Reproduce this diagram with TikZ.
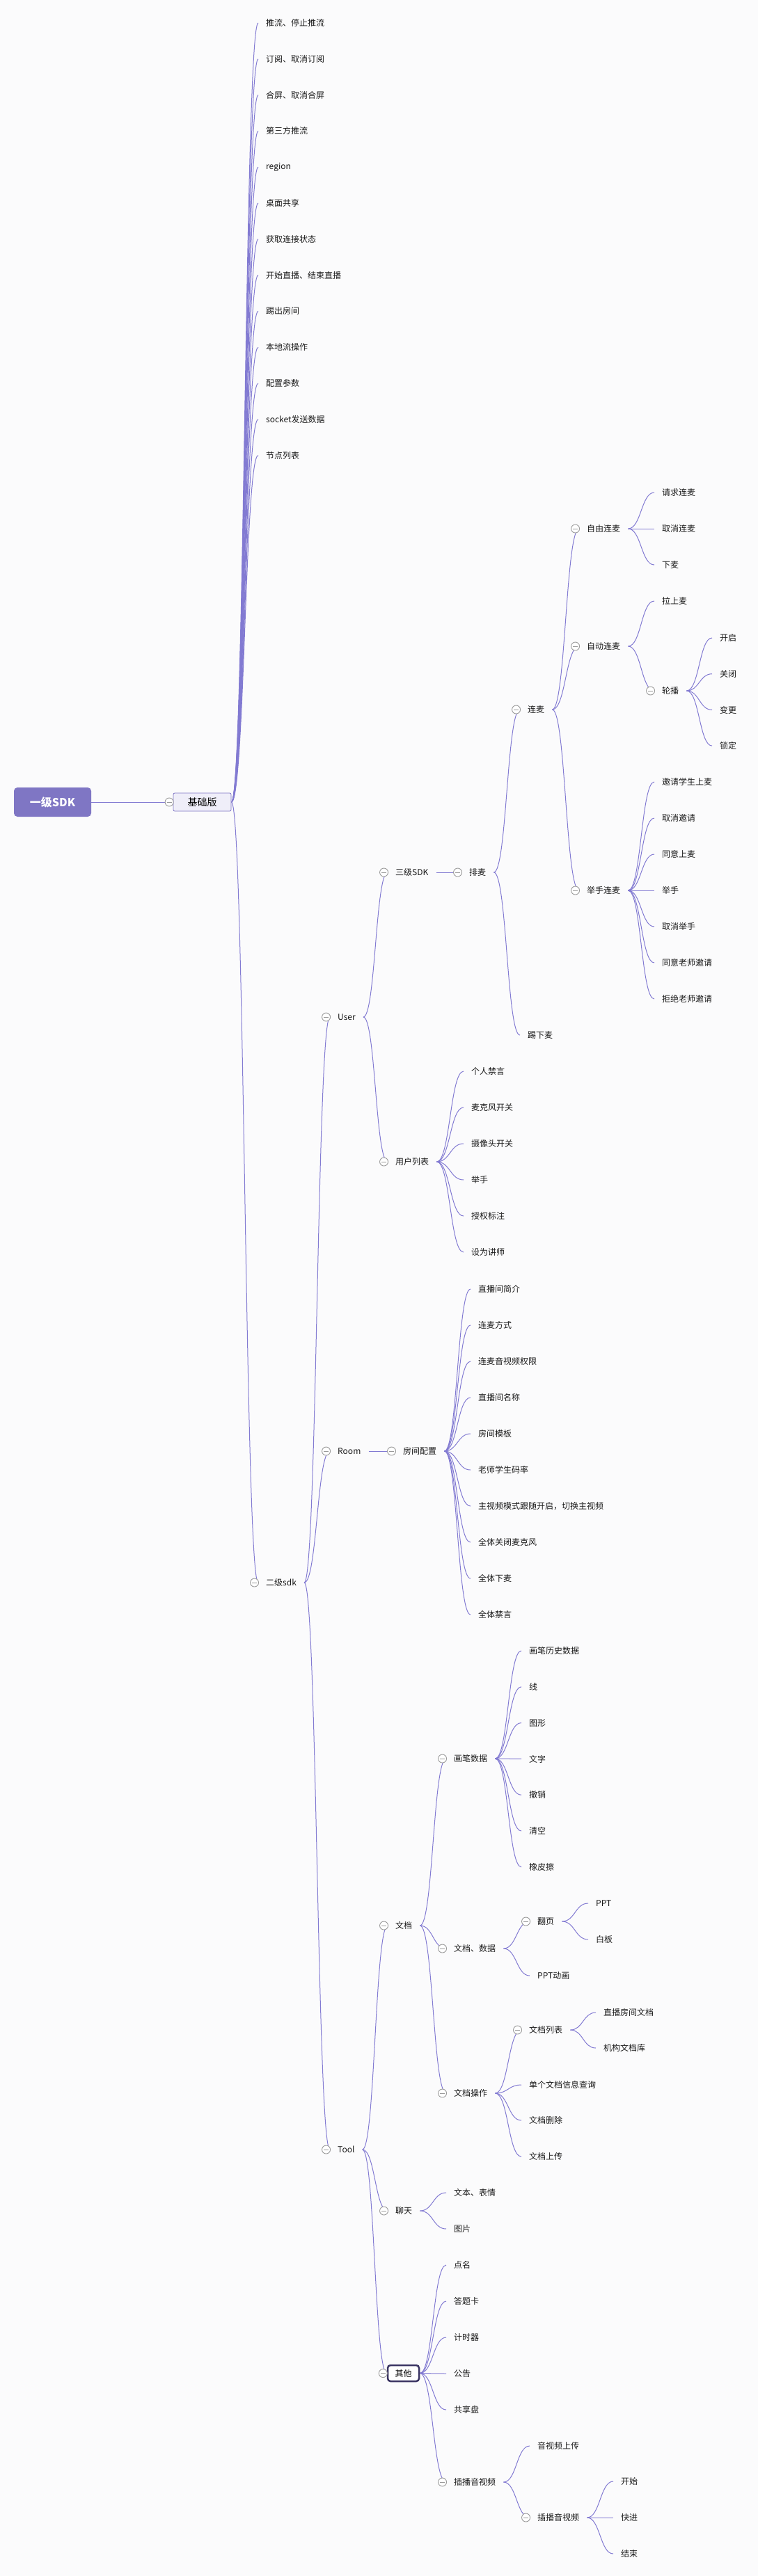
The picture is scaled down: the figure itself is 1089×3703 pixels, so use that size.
\documentclass[tikz,border=0pt]{standalone}
\usepackage{fontspec}
\setmainfont{Noto Sans CJK SC}
\usepackage{xcolor}
\usepackage{tikz}
\usetikzlibrary{calc,backgrounds}

\definecolor{morado}{RGB}{127,118,196}
\definecolor{lila}{RGB}{239,238,249}
\definecolor{linea}{RGB}{130,122,210}
\definecolor{fondo}{RGB}{251,251,252}
\definecolor{oscuro}{RGB}{58,52,98}

\tikzset{
  texto/.style={anchor=west, inner xsep=11pt, inner ysep=3pt,
    font=\fontsize{12}{14}\selectfont, text=black!90},
  menos/.style={circle, draw=black!40, fill=white, line width=0.9pt,
    minimum size=12pt, inner sep=0pt,
    path picture={\draw[black!40, line width=0.9pt]
      ([xshift=-3.5pt]path picture bounding box.center) --
      ([xshift=3.5pt]path picture bounding box.center);}},
  plegable/.style={texto, label={[menos, label distance=-1pt]left:{}}},
  raiz/.style={rectangle, rounded corners=5pt, fill=morado, text=white,
    font=\fontsize{16}{18}\selectfont\bfseries,
    minimum width=111pt, minimum height=42pt},
  basico/.style={rectangle, rounded corners=2pt, draw=morado, fill=lila,
    line width=0.8pt, font=\fontsize{14}{16}\selectfont,
    minimum width=83pt, minimum height=26pt},
  otro/.style={rectangle, rounded corners=4pt, draw=oscuro, fill=white,
    line width=2.5pt, font=\fontsize{12}{14}\selectfont,
    minimum width=45pt, minimum height=23pt},
  rama/.style={draw=linea, line width=1pt,
    to path={.. controls ($(\tikztostart)!0.5!(\tikztotarget |- \tikztostart)$)
      and ($(\tikztotarget)!0.5!(\tikztostart |- \tikztotarget)$) .. (\tikztotarget)}}
}

\begin{document}
\begin{tikzpicture}[x=1pt, y=-1pt]
    % Raíz y versión básica
    \node[raiz] (raiz) at (75.5,1153) {一级SDK};
    \node[basico, label={[menos, label distance=-1pt]left:{}}] (base) at (290.5,1153) {基础版};

    % Funciones básicas
    \foreach \t [count=\i from 0] in {推流、停止推流, 订阅、取消订阅, 合屏、取消合屏,
        第三方推流, region, 桌面共享, 获取连接状态, 开始直播、结束直播, 踢出房间,
        本地流操作, 配置参数, socket发送数据, 节点列表}
      \node[texto] (b\i) at (371,33+51.8*\i) {\t};

    % Segundo nivel
    \node[plegable] (sdk2) at (371,2275) {二级sdk};
    \node[plegable] (user) at (474,1462) {User};
    \node[plegable] (room) at (474,2086) {Room};
    \node[plegable] (tool) at (474,3090) {Tool};

    % User: tercer nivel y micrófono
    \node[plegable] (sdk3) at (557,1254) {三级SDK};
    \node[plegable] (paimai) at (663,1254) {排麦};
    \node[plegable] (lianmai) at (747,1020) {连麦};
    \node[texto] (tixia) at (747,1488) {踢下麦};

    \node[plegable] (ziyou) at (832,760) {自由连麦};
    \node[texto] (zy0) at (940,708) {请求连麦};
    \node[texto] (zy1) at (940,760) {取消连麦};
    \node[texto] (zy2) at (940,812) {下麦};

    \node[plegable] (zidong) at (832,929) {自动连麦};
    \node[texto] (lashang) at (940,864) {拉上麦};
    \node[plegable] (lunbo) at (940,993) {轮播};
    \foreach \t [count=\i from 0] in {开启, 关闭, 变更, 锁定}
      \node[texto] (lb\i) at (1023,917+51.7*\i) {\t};

    \node[plegable] (jushou) at (832,1280) {举手连麦};
    \foreach \t [count=\i from 0] in {邀请学生上麦, 取消邀请, 同意上麦, 举手,
        取消举手, 同意老师邀请, 拒绝老师邀请}
      \node[texto] (js\i) at (940,1124+52*\i) {\t};

    % Lista de usuarios
    \node[plegable] (lista) at (557,1670) {用户列表};
    \foreach \t [count=\i from 0] in {个人禁言, 麦克风开关, 摄像头开关, 举手, 授权标注, 设为讲师}
      \node[texto] (ul\i) at (666,1540+52*\i) {\t};

    % Room
    \node[plegable] (config) at (568,2086) {房间配置};
    \foreach \t [count=\i from 0] in {直播间简介, 连麦方式, 连麦音视频权限, 直播间名称,
        房间模板, 老师学生码率, 主视频模式跟随开启，切换主视频, 全体关闭麦克风, 全体下麦, 全体禁言}
      \node[texto] (rc\i) at (676,1853+52*\i) {\t};

    % Tool: documentos
    \node[plegable] (doc) at (557,2768) {文档};
    \node[plegable] (pincel) at (641,2528) {画笔数据};
    \foreach \t [count=\i from 0] in {画笔历史数据, 线, 图形, 文字, 撤销, 清空, 橡皮擦}
      \node[texto] (pc\i) at (749,2373+51.8*\i) {\t};

    \node[plegable] (docdatos) at (641,2801) {文档、数据};
    \node[plegable] (fanye) at (761,2762) {翻页};
    \node[texto] (ppt) at (845,2736) {PPT};
    \node[texto] (pizarra) at (845,2788) {白板};
    \node[texto] (pptanim) at (761,2840) {PPT动画};

    \node[plegable] (docop) at (641,3009) {文档操作};
    \node[plegable] (doclista) at (749,2918) {文档列表};
    \node[texto] (dl0) at (856,2893) {直播房间文档};
    \node[texto] (dl1) at (856,2944) {机构文档库};
    \node[texto] (do1) at (749,2997) {单个文档信息查询};
    \node[texto] (do2) at (749,3048) {文档删除};
    \node[texto] (do3) at (749,3100) {文档上传};

    % Tool: chat
    \node[plegable] (chat) at (557,3178) {聊天};
    \node[texto] (ch0) at (641,3152) {文本、表情};
    \node[texto] (ch1) at (641,3204) {图片};

    % Tool: otros
    \node[otro, label={[menos, label distance=-1pt]left:{}}] (otros) at (579.5,3411.5) {其他};
    \foreach \t [count=\i from 0] in {点名, 答题卡, 计时器, 公告, 共享盘}
      \node[texto] (ot\i) at (641,3256+52*\i) {\t};
    \node[plegable] (chabo) at (641,3568) {插播音视频};
    \node[texto] (subir) at (761,3516) {音视频上传};
    \node[plegable] (chabo2) at (761,3619) {插播音视频};
    \foreach \t [count=\i from 0] in {开始, 快进, 结束}
      \node[texto] (cb\i) at (881,3567+52*\i) {\t};

    % Ramas (detrás de los nodos)
    \begin{scope}[on background layer]
      \fill[fondo] (0,0) rectangle (1089,3703);
      \draw[rama] (raiz.east) to (base.west);
      \foreach \i in {0,...,12} \draw[rama] (base.east) to (b\i.west);
      \draw[rama] (base.east) to (sdk2.west);
      \foreach \n in {user,room,tool} \draw[rama] (sdk2.east) to (\n.west);

      \foreach \n in {sdk3,lista} \draw[rama] (user.east) to (\n.west);
      \draw[rama] (sdk3.east) to (paimai.west);
      \foreach \n in {lianmai,tixia} \draw[rama] (paimai.east) to (\n.west);
      \foreach \n in {ziyou,zidong,jushou} \draw[rama] (lianmai.east) to (\n.west);
      \foreach \i in {0,1,2} \draw[rama] (ziyou.east) to (zy\i.west);
      \foreach \n in {lashang,lunbo} \draw[rama] (zidong.east) to (\n.west);
      \foreach \i in {0,...,3} \draw[rama] (lunbo.east) to (lb\i.west);
      \foreach \i in {0,...,6} \draw[rama] (jushou.east) to (js\i.west);
      \foreach \i in {0,...,5} \draw[rama] (lista.east) to (ul\i.west);

      \draw[rama] (room.east) to (config.west);
      \foreach \i in {0,...,9} \draw[rama] (config.east) to (rc\i.west);

      \foreach \n in {doc,chat,otros} \draw[rama] (tool.east) to (\n.west);
      \foreach \n in {pincel,docdatos,docop} \draw[rama] (doc.east) to (\n.west);
      \foreach \i in {0,...,6} \draw[rama] (pincel.east) to (pc\i.west);
      \foreach \n in {fanye,pptanim} \draw[rama] (docdatos.east) to (\n.west);
      \foreach \n in {ppt,pizarra} \draw[rama] (fanye.east) to (\n.west);
      \foreach \n in {doclista,do1,do2,do3} \draw[rama] (docop.east) to (\n.west);
      \foreach \i in {0,1} \draw[rama] (doclista.east) to (dl\i.west);
      \foreach \i in {0,1} \draw[rama] (chat.east) to (ch\i.west);
      \foreach \i in {0,...,4} \draw[rama] (otros.east) to (ot\i.west);
      \draw[rama] (otros.east) to (chabo.west);
      \foreach \n in {subir,chabo2} \draw[rama] (chabo.east) to (\n.west);
      \foreach \i in {0,1,2} \draw[rama] (chabo2.east) to (cb\i.west);
    \end{scope}
\end{tikzpicture}
\end{document}
